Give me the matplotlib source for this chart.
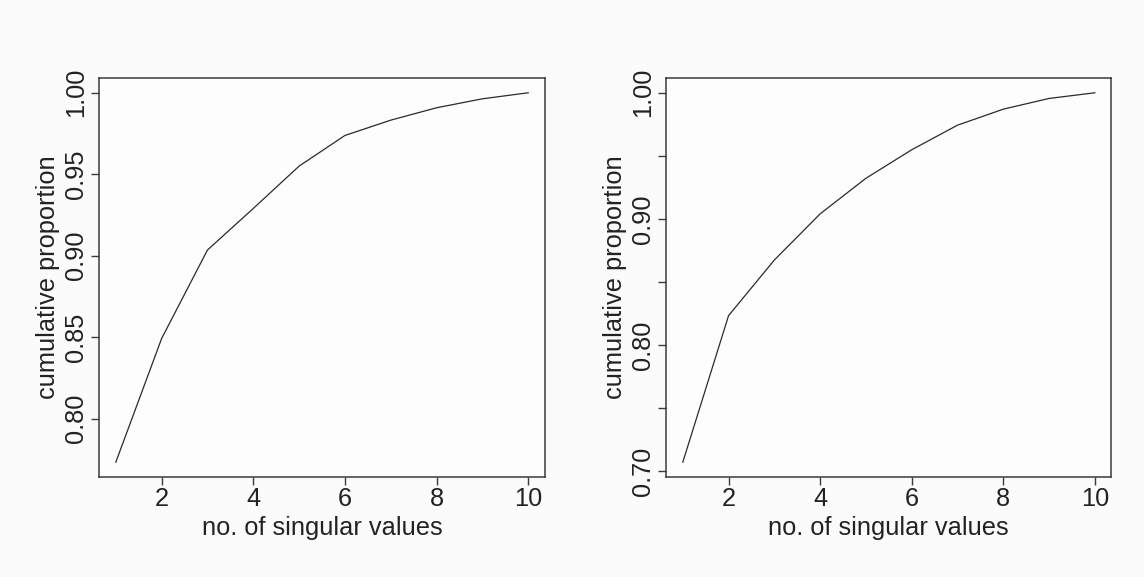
import matplotlib
matplotlib.use("Agg")
import matplotlib.pyplot as plt

# ---- data ----
n_sv = [1, 2, 3, 4, 5, 6, 7, 8, 9, 10]
left_cum = [0.7733, 0.8492, 0.9035, 0.9290, 0.9550, 0.9738, 0.9832, 0.9908, 0.9963, 1.0]
right_cum = [0.7071, 0.8233, 0.8674, 0.9040, 0.9322, 0.9548, 0.9743, 0.9870, 0.9955, 1.0]

x_ticks = [2, 4, 6, 8, 10]
x_ticklabels = ["2", "4", "6", "8", "10"]
left_yticks = [0.80, 0.85, 0.90, 0.95, 1.00]
left_yticklabels = ["0.80", "0.85", "0.90", "0.95", "1.00"]
right_yticks = [0.70, 0.75, 0.80, 0.85, 0.90, 0.95, 1.00]
right_yticklabels = ["0.70", "", "0.80", "", "0.90", "", "1.00"]

xlabel = "no. of singular values"
ylabel = "cumulative proportion"

plt.rcParams['font.family'] = ['Liberation Sans', 'DejaVu Sans']

W, H = 1144, 577
fig = plt.figure(figsize=(W / 100, H / 100), dpi=100, facecolor='#fbfbfb')

txt_col = '#222222'
line_col = '#2a2a2a'
fs = 18.3


def r_range(vals):
    lo, hi = min(vals), max(vals)
    d = (hi - lo) * 0.04
    return lo - d, hi + d


def make_panel(rect, y, yt, ytl):
    ax = fig.add_axes(rect)
    ax.set_facecolor('#fdfdfd')
    ax.plot(n_sv, y, color=line_col, lw=0.9)
    ax.set_xlim(*r_range(n_sv))
    ax.set_ylim(*r_range(y))
    ax.set_xticks(x_ticks)
    ax.set_xticklabels(x_ticklabels)
    ax.set_yticks(yt)
    ax.set_yticklabels(ytl, rotation=90, va='center')
    for s in ax.spines.values():
        s.set_color('#3a3a3a')
        s.set_linewidth(1.1)
    ax.tick_params(axis='both', colors='#3a3a3a', labelcolor=txt_col,
                   labelsize=fs, length=5.5, width=1.0)
    ax.tick_params(axis='x', pad=1.5)
    ax.tick_params(axis='y', pad=2.5)
    ax.set_xlabel(xlabel, fontsize=fs, color=txt_col, labelpad=4)
    ax.set_ylabel(ylabel, fontsize=fs, color=txt_col, labelpad=3)
    return ax


bottom = 1 - 477 / H
height = (477 - 78) / H
make_panel([99.3 / W, bottom, 445.4 / W, height], left_cum, left_yticks, left_yticklabels)
make_panel([666.3 / W, bottom, 445.0 / W, height], right_cum, right_yticks, right_yticklabels)

fig.savefig("out.png", dpi=100, facecolor=fig.get_facecolor())
